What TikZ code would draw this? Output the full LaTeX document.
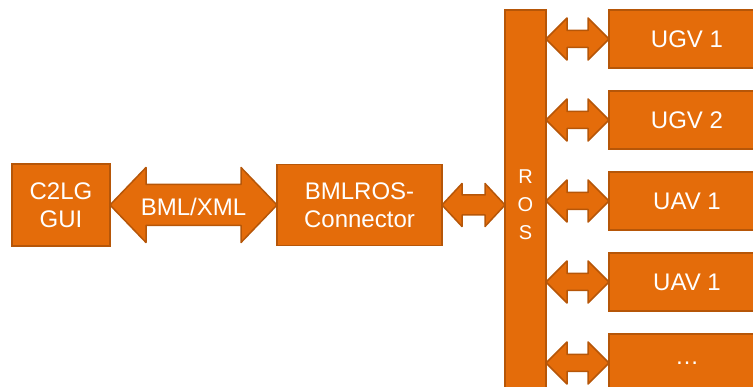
\documentclass[tikz,border=0pt]{standalone}
\usepackage{fontspec}
\setmainfont{Liberation Sans}
\usepackage{tikz}
\usetikzlibrary{positioning, calc}

\definecolor{boxfill}{HTML}{E46C0A}
\definecolor{boxline}{HTML}{B65608}

% block double arrow between two tips: head length, head half-width, shaft half-width
\newcommand{\dblarrow}[5]{%
  \filldraw[barrow] (#1) -- ($(#1)+(#3,#4)$) -- ($(#1)+(#3,#5)$)
    -- ($(#2)+(-#3,#5)$) -- ($(#2)+(-#3,#4)$) -- (#2)
    -- ($(#2)+(-#3,-#4)$) -- ($(#2)+(-#3,-#5)$)
    -- ($(#1)+(#3,-#5)$) -- ($(#1)+(#3,-#4)$) -- cycle;}

\begin{document}
\begin{tikzpicture}[
  x=1pt, y=1pt,
  font=\fontsize{24}{28}\selectfont,
  block/.style={
    rectangle,
    fill=boxfill, draw=boxline, line width=1.5pt,
    text=white, align=center, inner sep=0pt, outer sep=0pt
  },
  unit/.style={block, minimum width=156pt, minimum height=58pt},
  barrow/.style={fill=boxfill, draw=boxline, line width=1.5pt, line join=round},
]
\path[use as bounding box, clip] (0,0) rectangle (753,-387);

% --- Left chain ---
\node[block, minimum width=98pt, minimum height=82pt] (GUI) at (61,-205) {C2LG\\GUI};
\node[block, minimum width=165pt, minimum height=81pt, right=167pt of GUI] (CONN) {BMLROS-\\Connector};

% --- ROS bus ---
\node[block, minimum width=41pt, minimum height=390pt, right=63pt of CONN,
      font=\fontsize{20}{28}\selectfont] (ROS) {R\\O\\S};

% --- Vehicles ---
\node[unit, right=63pt of ROS.north east, anchor=north west] (UGV1) {UGV 1};
\node[unit, below=23pt of UGV1] (UGV2) {UGV 2};
\node[unit, below=23pt of UGV2] (UAV1) {UAV 1};
\node[unit, below=23pt of UAV1] (UAV2) {UAV 1};
\node[unit, below=23pt of UAV2] (MORE) {\dots};

% --- Arrows ---
\dblarrow{GUI.east}{CONN.west}{36}{37.5}{20.5}
\node (BML) at ($(GUI.east)!0.5!(CONN.west)+(0,-2)$) [text=white] {BML/XML};

\coordinate (ROSIN) at (CONN.east -| ROS.west);
\dblarrow{CONN.east}{ROSIN}{20}{21.5}{10}

\foreach \v in {UGV1, UGV2, UAV1, UAV2, MORE} {
  \coordinate (R-\v) at (\v.west -| ROS.east);
  \dblarrow{R-\v}{\v.west}{21}{21}{8.5}
}

\end{tikzpicture}
\end{document}
